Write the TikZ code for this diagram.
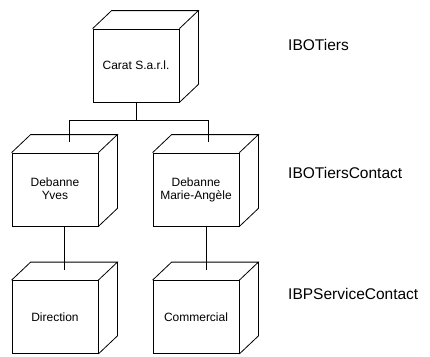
\documentclass[tikz,border=0pt]{standalone}
\usepackage{fontspec}
\setmainfont{Liberation Sans}
\usetikzlibrary{calc}
\begin{document}
\begin{tikzpicture}[x=1pt,y=-1pt,
  cubebox/.style={draw, line width=0.8pt, minimum width=86pt, minimum height=73pt,
    inner sep=0pt, align=center, font=\fontsize{12}{12}\selectfont},
  tier/.style={anchor=west, inner sep=0pt, font=\fontsize{15.5}{17}\selectfont},
  conn/.style={draw, line width=0.8pt}]
\useasboundingbox (0,0) rectangle (430,356);
\def\depth#1{\draw[line width=0.8pt] (#1.north west) -- ++(19,-18) -- ($(#1.north east)+(19,-18)$) -- (#1.north east)
  ($(#1.north east)+(19,-18)$) -- ($(#1.south east)+(19,-18)$) -- (#1.south east);}
% boxes
\node[cubebox] (carat) at (136,65.5) {\raisebox{-4pt}{Carat S.a.r.l.}};
\node[cubebox] (yves) at (55,189.5) {\raisebox{2pt}{\shortstack{Debanne\\[1pt]Yves}}};
\node[cubebox] (marie) at (196,189.5) {\raisebox{2pt}{\shortstack{Debanne\\[1pt]Marie-Angèle}}};
\node[cubebox] (dir) at (55,317) {Direction};
\node[cubebox] (com) at (196,317) {Commercial};
\depth{carat}
\depth{yves}
\depth{marie}
\depth{dir}
\depth{com}
% labels
\node[tier] (l1) at (288,45) {IBOTiers};
\node[tier] (l2) at (288,173) {IBOTiersContact};
\node[tier] (l3) at (288,294) {IBPServiceContact};
% connector anchors
\coordinate (yt) at ($(yves.north)+(14,-11)$);
\coordinate (mt) at ($(marie.north)+(12,-11)$);
\coordinate (dt) at ($(dir.north)+(9,-10)$);
\coordinate (ct) at ($(com.north)+(10,-10)$);
\coordinate (hb) at ($(carat.south)+(0,18)$);
% connectors
\draw[conn] (carat.south) -- (hb);
\draw[conn] (yt) |- (hb) -| (mt);
\draw[conn] (yves.south -| dt) -- (dt);
\draw[conn] (marie.south -| ct) -- (ct);
\end{tikzpicture}
\end{document}
